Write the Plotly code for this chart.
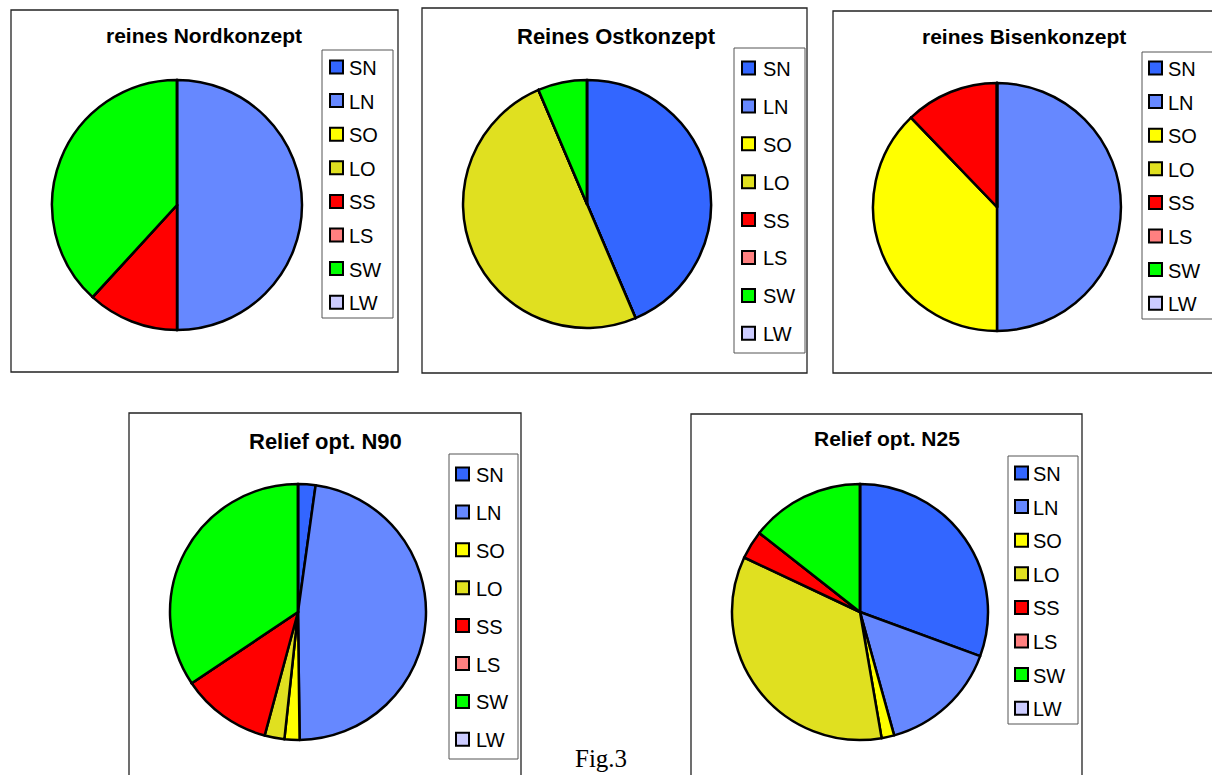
import plotly.graph_objects as go

W, H = 1212, 775

categories = ["SN", "LN", "SO", "LO", "SS", "LS", "SW", "LW"]
colors = ["#3366FF", "#6688FF", "#FFFF00", "#E0E020", "#FF0000", "#FF8080", "#00FF00", "#CCCCFF"]

titles = ["reines Nordkonzept", "Reines Ostkonzept", "reines Bisenkonzept",
          "Relief opt. N90", "Relief opt. N25"]
title_sizes = [21, 22, 21, 22, 21]

nord = [0, 50.0, 0, 0, 11.8, 0, 38.2, 0]
ost = [43.6, 0, 0, 50.0, 0, 0, 6.4, 0]
bise = [0, 50.0, 37.8, 0, 12.2, 0, 0, 0]
n90 = [2.2, 47.6, 1.9, 2.5, 11.4, 0, 34.4, 0]
n25 = [30.6, 15.1, 1.6, 34.7, 3.6, 0, 14.4, 0]
series = [nord, ost, bise, n90, n25]

# layout (pixels): box, pie centre/radius, title centre, legend box, legend rows
panels = [
    dict(box=(11, 10, 398, 372), c=(177, 205, 125), t=(204, 35),
         lg=(322, 50, 393, 318), ly=(67, 33.6), sw=330, tx=347),
    dict(box=(422, 8, 807, 373), c=(587, 204, 124), t=(616, 36),
         lg=(734, 48, 805, 353), ly=(68, 37.9), sw=742, tx=761),
    dict(box=(833, 11, 1216, 373), c=(997, 207, 124), t=(1024, 37),
         lg=(1142, 52, 1216, 319), ly=(68, 33.6), sw=1149, tx=1166),
    dict(box=(129, 413, 521, 780), c=(298, 612, 128), t=(325, 441),
         lg=(449, 454, 518, 759), ly=(474, 37.9), sw=456, tx=474),
    dict(box=(691, 414, 1082, 780), c=(860, 612, 128), t=(887, 438),
         lg=(1008, 456, 1078, 724), ly=(473, 33.6), sw=1015, tx=1031),
]


def px(x):
    return x / W


def py(y):
    return 1 - y / H


fig = go.Figure()
shapes = []
annotations = []

for p, vals, title, ts in zip(panels, series, titles, title_sizes):
    x0, y0, x1, y1 = p["box"]
    shapes.append(dict(type="rect", xref="paper", yref="paper",
                       x0=px(x0), x1=px(x1), y0=py(y1), y1=py(y0),
                       line=dict(color="#222222", width=1.3), fillcolor="rgba(0,0,0,0)",
                       layer="below"))
    cx, cy, r = p["c"]
    fig.add_trace(go.Pie(
        labels=categories, values=vals, sort=False, direction="clockwise", rotation=0,
        marker=dict(colors=colors, line=dict(color="black", width=2.5)),
        textinfo="none", hoverinfo="label+percent", showlegend=False,
        domain=dict(x=[px(cx - r), px(cx + r)], y=[py(cy + r), py(cy - r)]),
    ))
    tx, ty = p["t"]
    annotations.append(dict(x=px(tx), y=py(ty), xref="paper", yref="paper",
                            text="<b>%s</b>" % title, showarrow=False,
                            xanchor="center", yanchor="middle",
                            font=dict(family="Liberation Sans, Arial", size=ts, color="black")))
    lx0, ly0, lx1, ly1 = p["lg"]
    shapes.append(dict(type="rect", xref="paper", yref="paper",
                       x0=px(lx0), x1=px(lx1), y0=py(ly1), y1=py(ly0),
                       line=dict(color="#555555", width=1), fillcolor="white"))
    yst, dy = p["ly"]
    for i, (cat, col) in enumerate(zip(categories, colors)):
        yc = yst + i * dy
        s = 6.5
        shapes.append(dict(type="rect", xref="paper", yref="paper",
                           x0=px(p["sw"]), x1=px(p["sw"] + 2 * s),
                           y0=py(yc + s), y1=py(yc - s),
                           line=dict(color="black", width=2), fillcolor=col))
        annotations.append(dict(x=px(p["tx"]), y=py(yc + 1), xref="paper", yref="paper",
                                text=cat, showarrow=False, xanchor="left", yanchor="middle",
                                font=dict(family="Liberation Sans, Arial", size=20, color="black")))

annotations.append(dict(x=px(601), y=py(758), xref="paper", yref="paper", text="Fig.3",
                        showarrow=False, xanchor="center", yanchor="middle",
                        font=dict(family="Liberation Serif, Times New Roman", size=25, color="black")))

fig.update_layout(width=W, height=H, margin=dict(l=0, r=0, t=0, b=0),
                  paper_bgcolor="white", plot_bgcolor="white",
                  shapes=shapes, annotations=annotations, showlegend=False)

fig.write_html("out.html")
